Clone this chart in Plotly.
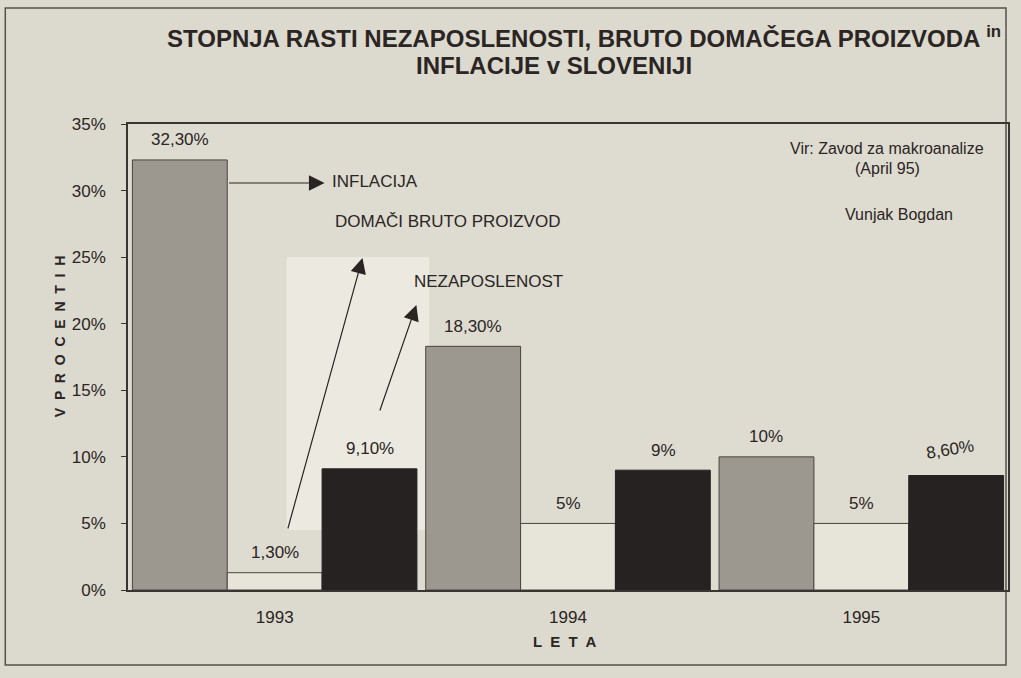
import plotly.graph_objects as go

years = ["1993", "1994", "1995"]
inflacija = [32.3, 18.3, 10.0]
bdp = [1.3, 5.0, 5.0]
nezaposlenost = [9.1, 9.0, 8.6]
lbl_infl = ["32,30%", "18,30%", "10%"]
lbl_bdp = ["1,30%", "5%", "5%"]
lbl_nez = ["9,10%", "9%", "8,60%"]
y_ticks = [0, 5, 10, 15, 20, 25, 30, 35]
y_ticktext = ["0%", "5%", "10%", "15%", "20%", "25%", "30%", "35%"]

W, H = 1021, 678
L, R, T, B = 128, 11, 124, 88
PW, PH = W - L - R, H - T - B


def px(x):
    return (x - L) / PW


def py(y):
    return (H - B - y) / PH


TXT = "#2b2524"
FONT = "Liberation Sans, Arial, sans-serif"

fig = go.Figure()
fig.add_bar(x=years, y=inflacija, name="INFLACIJA",
            marker=dict(color="#9c9890", line=dict(color="#4a4440", width=1)))
fig.add_bar(x=years, y=bdp, name="DOMAČI BRUTO PROIZVOD",
            marker=dict(color="#e7e4da", line=dict(color="#4a4440", width=1)))
fig.add_bar(x=years, y=nezaposlenost, name="NEZAPOSLENOST",
            marker=dict(color="#262222", line=dict(color="#262222", width=1)))

ann = []
for i, (vals, lbls) in enumerate([(inflacija, lbl_infl), (bdp, lbl_bdp), (nezaposlenost, lbl_nez)]):
    for j, (v, t) in enumerate(zip(vals, lbls)):
        ang = -9 if (i == 2 and j == 2) else 0
        ann.append(dict(x=j, y=v, xref="x", yref="y", text=t, showarrow=False,
                        xanchor="center", yanchor="middle",
                        xshift=(i - 1) * 95 + (-6 if ang else 0), yshift=20 + (6 if ang else 0),
                        textangle=ang, font=dict(size=17, color=TXT, family=FONT)))


def txt(x, y, t, size=17, anchor="center", **kw):
    d = dict(x=px(x), y=py(y), xref="paper", yref="paper", text=t, showarrow=False,
             xanchor=anchor, yanchor="middle", font=dict(size=size, color=TXT, family=FONT))
    d["font"].update(kw.pop("fontkw", {}))
    d.update(kw)
    return d


def arrow(x0, y0, x1, y1):
    return dict(x=px(x1), y=py(y1), xref="paper", yref="paper", ax=x0 - x1, ay=y0 - y1,
                text="", showarrow=True, arrowhead=2, arrowsize=2.6, arrowwidth=1.2,
                arrowcolor="#2a2422", xanchor="center", yanchor="middle")


ann += [
    txt(330, 182, "INFLACIJA", anchor="left"),
    txt(333, 221, "DOMAČI BRUTO PROIZVOD", anchor="left"),
    txt(413, 281, "NEZAPOSLENOST", anchor="left"),
    txt(889, 148, "Vir: Zavod za makroanalize", size=16),
    txt(889, 169, "(April 95)", size=16),
    txt(901, 214, "Vunjak Bogdan", size=16),
    arrow(228, 183, 325, 183),
    arrow(288, 530, 363, 258),
    arrow(380, 412, 417, 305),
    txt(585, 37, "STOPNJA RASTI NEZAPOSLENOSTI, BRUTO DOMAČEGA PROIZVODA <sup>in</sup>",
        size=24, fontkw=dict(weight="bold")),
    txt(555, 66, "INFLACIJE v SLOVENIJI", size=24, fontkw=dict(weight="bold")),
    txt(60, 336, "V  P  R  O  C  E  N  T  I  H", size=14, textangle=-90, fontkw=dict(weight="bold")),
    txt(566, 641, "L  E  T  A", size=15, fontkw=dict(weight="bold")),
]

shapes = [
    dict(type="rect", xref="paper", yref="paper", x0=px(287), x1=px(430), y0=py(530), y1=py(257),
         fillcolor="#ebe9e0", line=dict(width=0), layer="below"),
    dict(type="rect", xref="paper", yref="paper", x0=px(5), x1=px(1008), y0=py(665), y1=py(8),
         fillcolor="rgba(0,0,0,0)", line=dict(color="#55504b", width=1.5), layer="below"),
]

fig.update_layout(
    width=W, height=H,
    margin=dict(l=L, r=R, t=T, b=B),
    paper_bgcolor="#dcd9ce", plot_bgcolor="#dedbd0",
    barmode="group", bargap=0.03, bargroupgap=0,
    showlegend=False,
    annotations=ann, shapes=shapes,
    font=dict(family=FONT, color=TXT),
)
fig.update_xaxes(type="category", range=[-0.5, 2.5], showgrid=False, showline=True, mirror=True,
                 linecolor="#3a3432", linewidth=1.5, ticks="", ticklabelstandoff=11,
                 tickfont=dict(size=17, color=TXT))
fig.update_yaxes(range=[0, 35], tickmode="array", tickvals=y_ticks, ticktext=y_ticktext,
                 showgrid=False, showline=True, mirror=True, linecolor="#3a3432", linewidth=1.5,
                 ticks="outside", ticklen=5, tickcolor="#3a3432", ticklabelstandoff=12,
                 tickfont=dict(size=17, color=TXT), zeroline=False)

fig.write_html("out.html", config={"displayModeBar": False})
with open("out.html", encoding="utf-8") as f:
    html = f.read()
html = html.replace("<body>", '<body style="margin:0;padding:0;background:#dcd9ce">', 1)
with open("out.html", "w", encoding="utf-8") as f:
    f.write(html)
